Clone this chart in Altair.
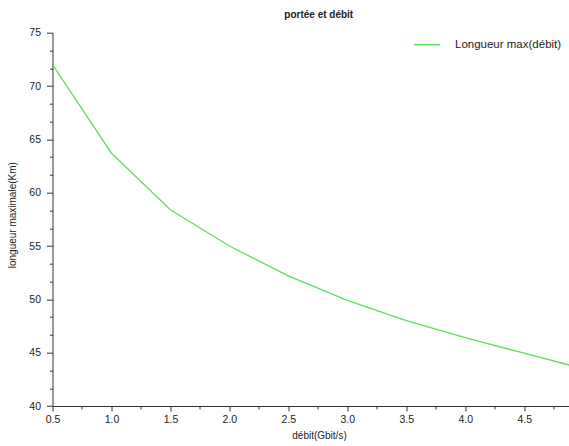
import altair as alt
import pandas as pd

debit = [0.5, 1.0, 1.5, 2.0, 2.5, 3.0, 3.5, 4.0, 4.5, 5.0]
longueur = [72.0, 63.7, 58.4, 55.0, 52.2, 49.9, 48.0, 46.4, 44.95, 43.5]
serie = "Longueur max(débit)"

x_major = [0.5, 1.0, 1.5, 2.0, 2.5, 3.0, 3.5, 4.0, 4.5]
x_minor = [0.75, 1.25, 1.75, 2.25, 2.75, 3.25, 3.75, 4.25, 4.75]
y_major = [40, 45, 50, 55, 60, 65, 70, 75]
y_minor = [40 + i * 5 / 3 for i in range(22) if i % 3 != 0]

df = pd.DataFrame({"debit": debit, "longueur": longueur, "serie": [serie] * len(debit)})

FONT = "Liberation Sans"
W, H = 516.5, 373.3
x_dom = [0.5, 4.88]
y_dom = [40, 75]

xscale = alt.Scale(domain=x_dom, nice=False, zero=False)
yscale = alt.Scale(domain=y_dom, nice=False, zero=False)

line = alt.Chart(df).mark_line(strokeWidth=1.3, clip=True).encode(
    x=alt.X("debit:Q", scale=xscale,
            axis=alt.Axis(orient="bottom", values=x_major, format=".1f", title="débit(Gbit/s)",
                          grid=False, tickSize=5, labelPadding=3, labelFontSize=10.5,
                          labelFont=FONT, labelColor="#222", titleFont=FONT, titleFontSize=10,
                          titleFontWeight="normal", titleColor="#222", titleBaseline="middle",
                          titleX=266.5, titleY=29, domainColor="#333", tickColor="#333",
                          labelFlush=False)),
    y=alt.Y("longueur:Q", scale=yscale,
            axis=alt.Axis(orient="left", values=y_major, title="longueur maximale(Km)",
                          grid=False, tickSize=6, labelPadding=6, labelFontSize=10.5,
                          labelFont=FONT, labelColor="#222", titleFont=FONT, titleFontSize=10,
                          titleFontWeight="normal", titleColor="#222", titleBaseline="middle",
                          titleX=-40, titleY=182, domainColor="#333", tickColor="#333")),
    color=alt.Color("serie:N", scale=alt.Scale(range=["#5ede5e"]),
                    legend=alt.Legend(title=None, orient="none", legendX=360.5, legendY=-2,
                                      symbolType="stroke", symbolSize=676, symbolStrokeWidth=1.5,
                                      labelFont=FONT, labelFontSize=11.5, labelColor="#222",
                                      labelOffset=14, padding=0)),
)

minor = alt.Chart(df).mark_line(opacity=0).encode(
    x=alt.X("debit:Q", scale=xscale,
            axis=alt.Axis(orient="bottom", values=x_minor, labels=False, title=None, grid=False,
                          domain=False, tickSize=3, tickColor="#333")),
    y=alt.Y("longueur:Q", scale=yscale,
            axis=alt.Axis(orient="left", values=y_minor, labels=False, title=None, grid=False,
                          domain=False, tickSize=3, tickColor="#333")),
)

chart = alt.layer(line, minor).resolve_axis(x="independent", y="independent").properties(
    width=W, height=H,
    title=alt.TitleParams("portée et débit", font=FONT, fontSize=10, fontWeight="bold",
                          color="#222", anchor="middle", frame="group", dx=8, offset=8),
    autosize=alt.AutoSizeParams(type="none"),
    padding={"left": 52.5, "top": 32.7, "right": 0, "bottom": 40},
).configure_view(stroke=None)

chart.save("out.html", embed_options={"renderer": "svg", "actions": False})
